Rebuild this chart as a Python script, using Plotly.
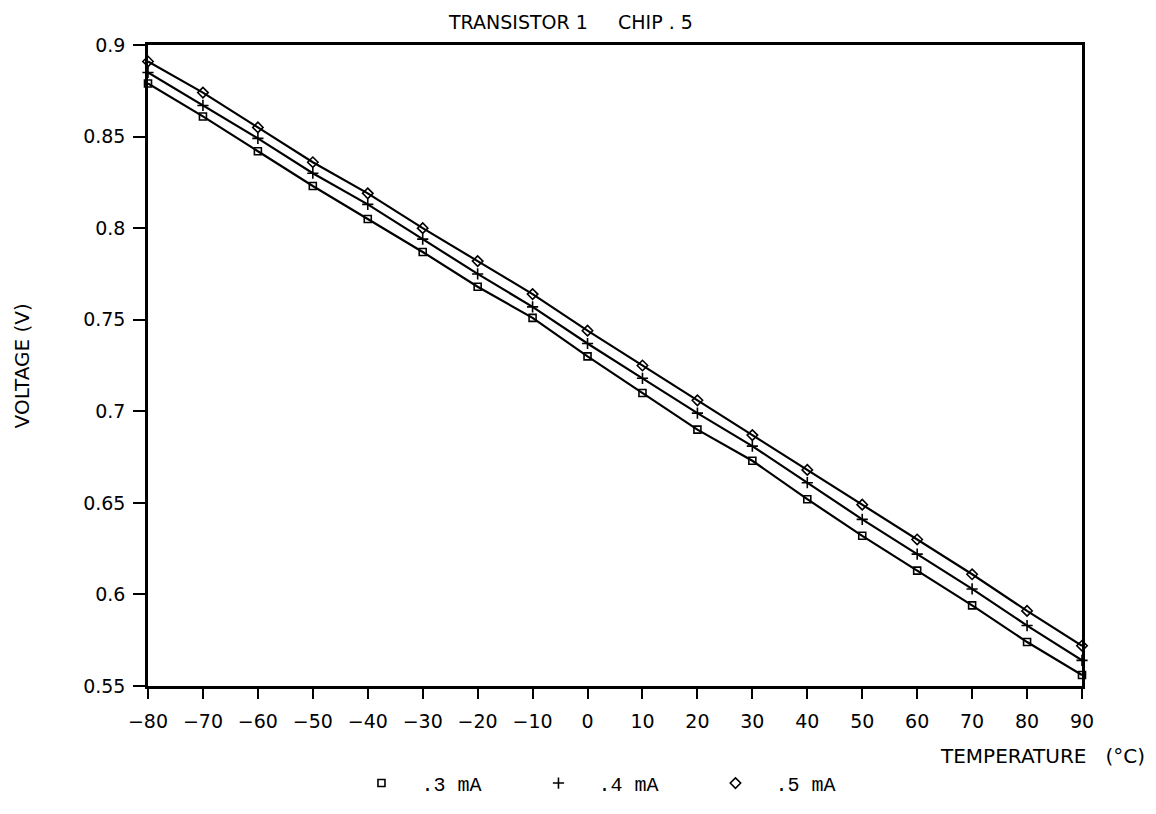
import plotly.graph_objects as go

temperature = [-80, -70, -60, -50, -40, -30, -20, -10, 0, 10, 20, 30, 40, 50, 60, 70, 80, 90]
v_03mA = [0.879, 0.861, 0.842, 0.823, 0.805, 0.787, 0.768, 0.751, 0.730, 0.710, 0.690, 0.673, 0.652, 0.632, 0.613, 0.594, 0.574, 0.556]
v_04mA = [0.885, 0.867, 0.849, 0.830, 0.813, 0.794, 0.775, 0.757, 0.737, 0.718, 0.699, 0.681, 0.661, 0.641, 0.622, 0.603, 0.583, 0.564]
v_05mA = [0.891, 0.874, 0.855, 0.836, 0.819, 0.800, 0.782, 0.764, 0.744, 0.725, 0.706, 0.687, 0.668, 0.649, 0.630, 0.611, 0.591, 0.572]

series_names = [".3 mA", ".4 mA", ".5 mA"]
x_ticks = [-80, -70, -60, -50, -40, -30, -20, -10, 0, 10, 20, 30, 40, 50, 60, 70, 80, 90]
y_ticks = [0.55, 0.6, 0.65, 0.7, 0.75, 0.8, 0.85, 0.9]
y_ticktext = ["0.55", "0.6", "0.65", "0.7", "0.75", "0.8", "0.85", "0.9"]

FONT = "DejaVu Sans"
MONO = "Liberation Mono"

fig = go.Figure()
styles = [
    dict(symbol="square-open", size=7),
    dict(symbol="cross-thin-open", size=8),
    dict(symbol="diamond-open", size=8),
]
for vals, name, st in zip([v_03mA, v_04mA, v_05mA], series_names, styles):
    fig.add_trace(go.Scatter(
        x=temperature, y=vals, mode="lines+markers", name=name,
        showlegend=False, cliponaxis=False,
        line=dict(color="black", width=2.2),
        marker=dict(symbol=st["symbol"], size=st["size"], color="black",
                    line=dict(color="black", width=1.6)),
    ))
    fig.add_trace(go.Scatter(
        x=[None], y=[None], mode="markers", name=name, showlegend=True,
        marker=dict(symbol=st["symbol"], size=st["size"], color="black",
                    line=dict(color="black", width=1.6)),
    ))

fig.update_layout(
    width=1156, height=814,
    margin=dict(l=148, r=74, t=45, b=115),
    paper_bgcolor="white", plot_bgcolor="white",
    font=dict(family=FONT, color="black", size=19),
    showlegend=True,
    legend=dict(orientation="h", x=0.4914, xanchor="center", y=-0.1514, yanchor="middle",
                font=dict(family=MONO, size=20, color="black"),
                itemwidth=70, entrywidth=92, bgcolor="rgba(0,0,0,0)"),
    xaxis=dict(range=[-80, 90], tickvals=x_ticks, ticks="outside", ticklen=10,
               tickwidth=2, tickcolor="black", showline=True, linecolor="black",
               linewidth=2.5, mirror=True, showgrid=False, zeroline=False,
               tickfont=dict(family=FONT, size=19), ticklabelstandoff=6),
    yaxis=dict(range=[0.55, 0.9], tickvals=y_ticks, ticktext=y_ticktext,
               ticks="outside", ticklen=12, tickwidth=2, tickcolor="black",
               showline=True, linecolor="black", linewidth=2.5, mirror=True,
               showgrid=False, zeroline=False, ticklabelstandoff=4,
               tickfont=dict(family=FONT, size=19)),
    annotations=[
        dict(text="TRANSISTOR 1\u00a0\u00a0\u00a0\u00a0\u00a0CHIP . 5", xref="paper", yref="paper",
             x=0.452, y=1.036, xanchor="center", yanchor="middle", showarrow=False,
             font=dict(family=FONT, size=19)),
        dict(text="VOLTAGE (V)", xref="paper", yref="paper", x=-0.135, y=0.5,
             textangle=-90, xanchor="center", yanchor="middle", showarrow=False,
             font=dict(family=FONT, size=20)),
        dict(text="TEMPERATURE\u00a0\u00a0\u00a0(°C)", xref="paper", yref="paper",
             x=1.0696, y=-0.1086, xanchor="right", yanchor="middle", showarrow=False,
             font=dict(family=FONT, size=20)),
    ],
)

fig.write_html("out.html", config={"displayModeBar": False},
               post_script="document.body.style.margin='0';document.body.style.overflow='hidden';")
